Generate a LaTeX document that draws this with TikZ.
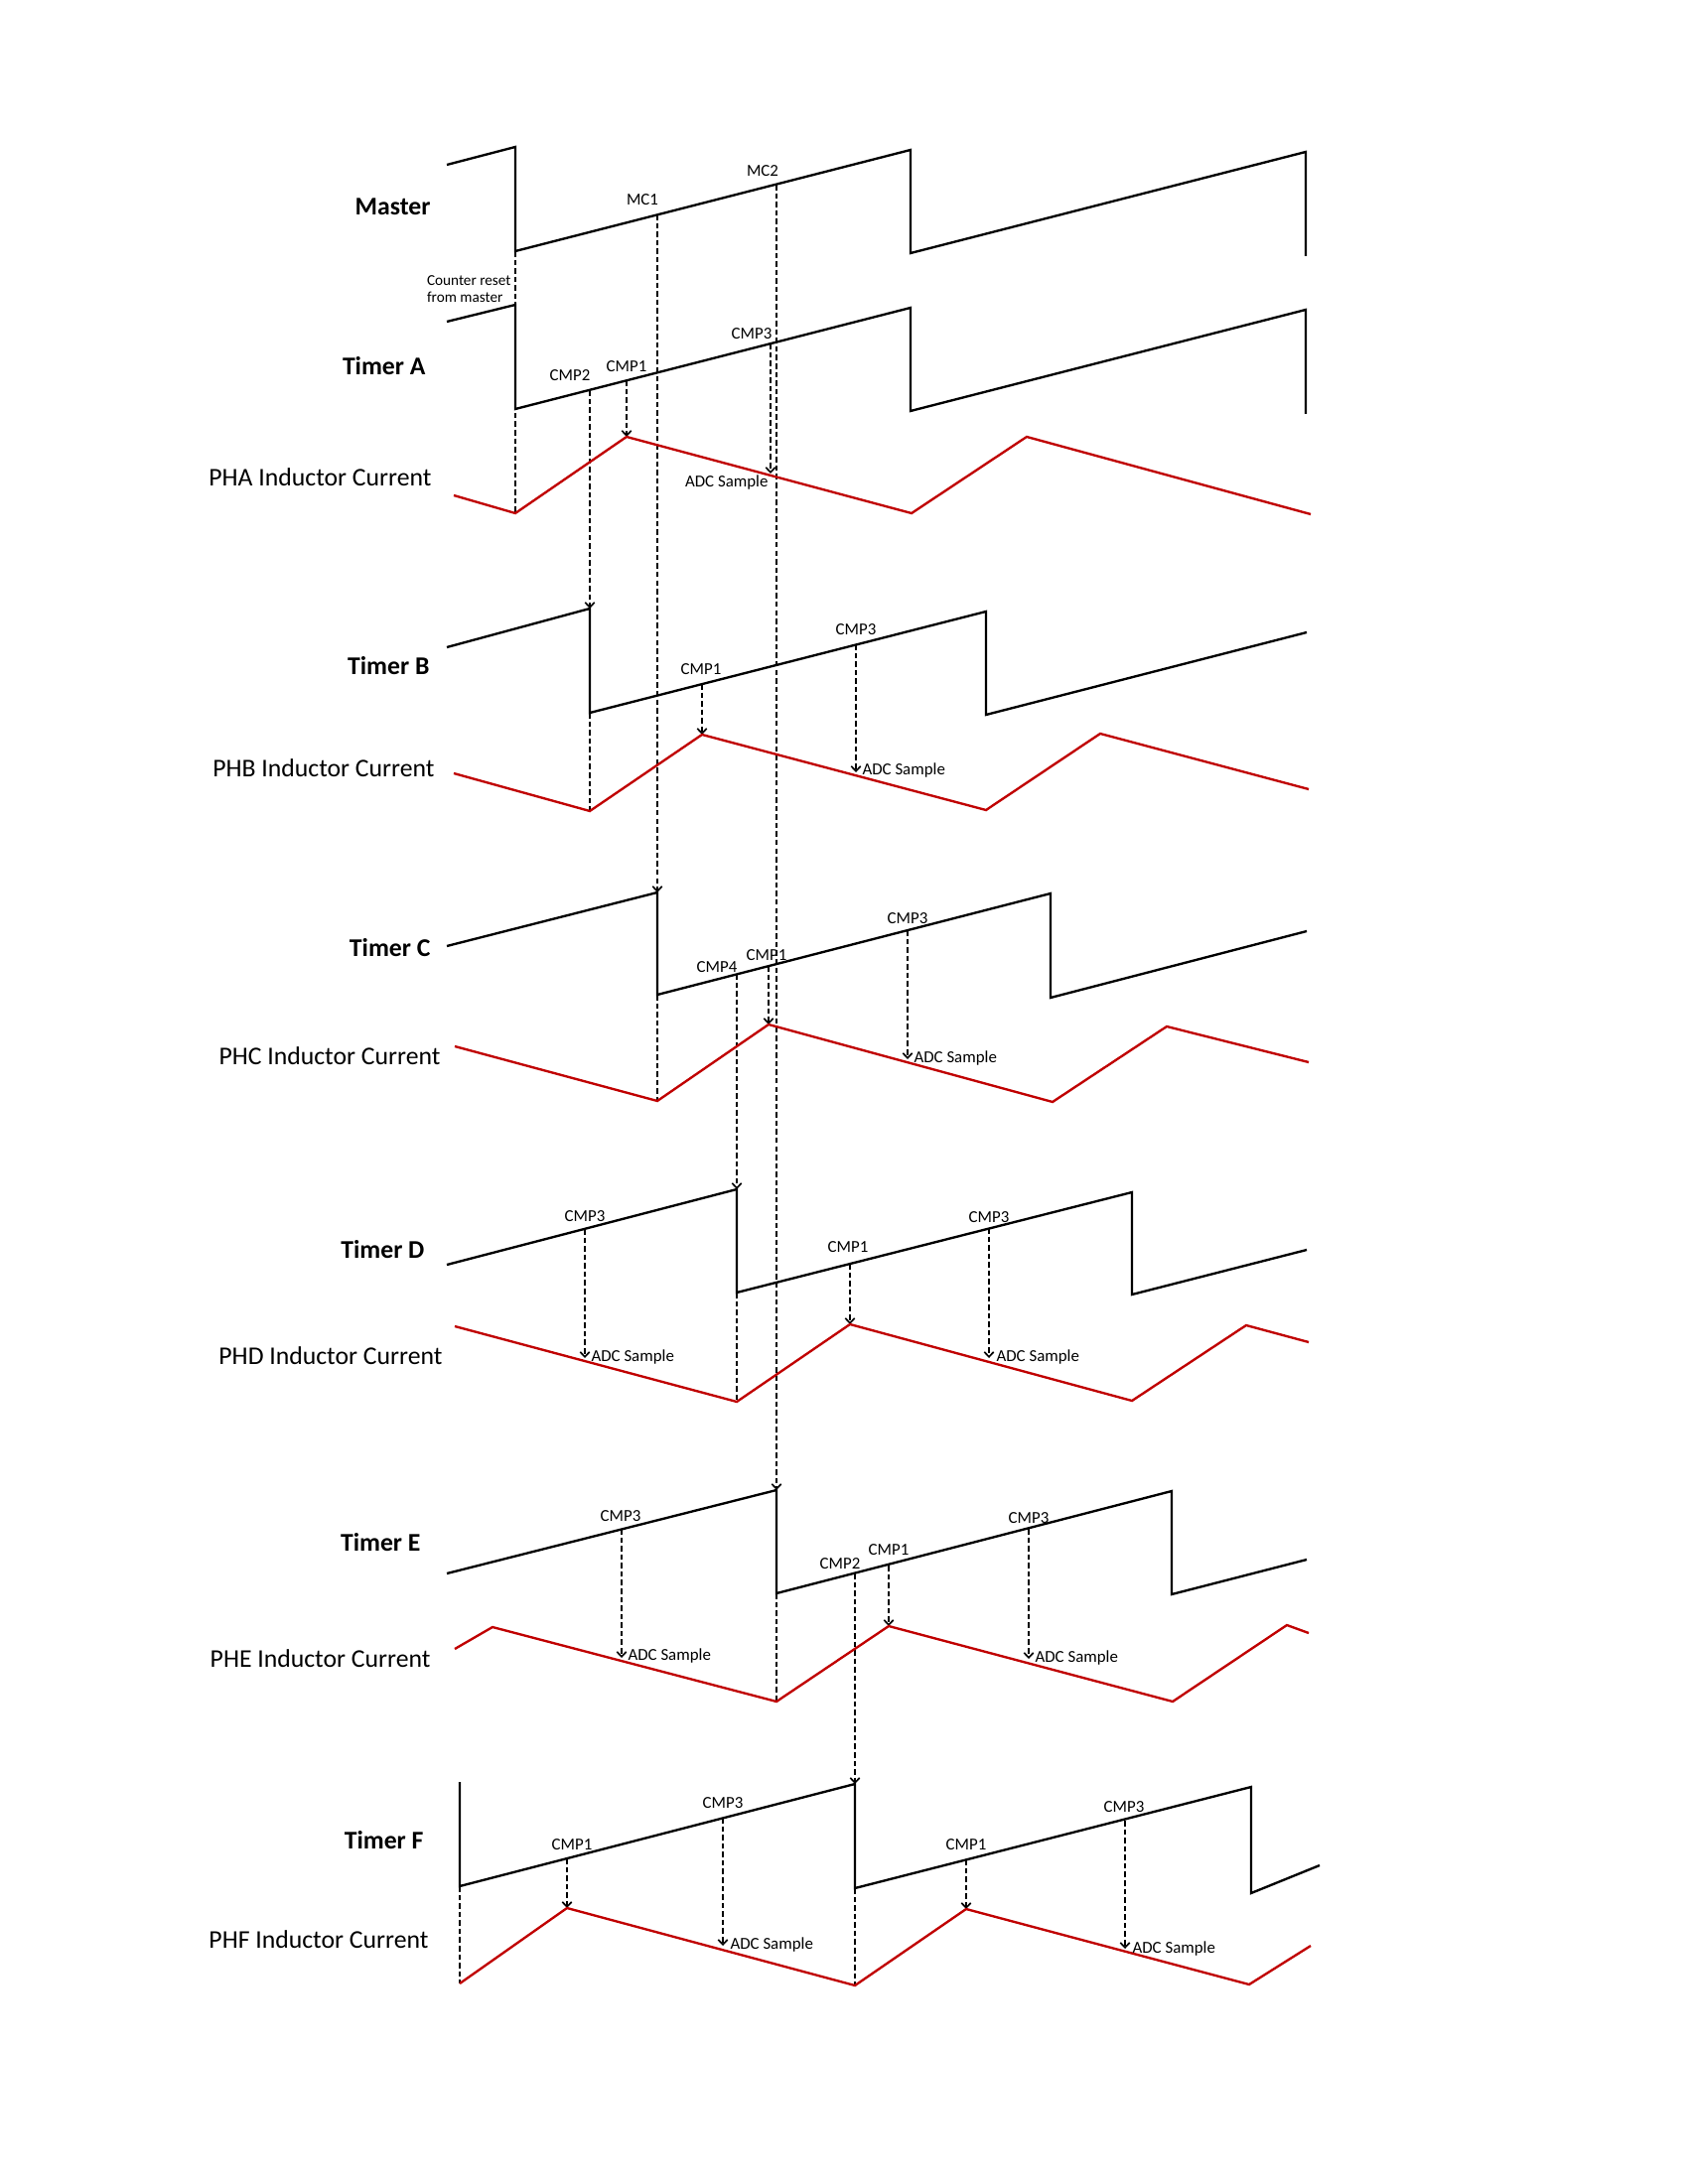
\documentclass[tikz,border=0pt]{standalone}
\usepackage{fontspec}
\setmainfont{Carlito}
\usetikzlibrary{arrows.meta}
\definecolor{ilRed}{HTML}{C00000}
\definecolor{rampBlack}{HTML}{000000}
\tikzset{
  rampW/.style={rampBlack, line width=0.85pt},
  curW/.style={ilRed, line width=0.85pt},
  syncA/.style={-{Straight Barb[length=1.8pt, width=3.4pt]}, black, line width=0.6pt,
                dash pattern=on 2pt off 1.1pt},
  syncL/.style={black, line width=0.6pt, dash pattern=on 2pt off 1.1pt},
  lblT/.style={font=\fontsize{9.3}{11}\selectfont\bfseries, inner sep=0pt, anchor=mid east},
  lblI/.style={font=\fontsize{9.3}{11}\selectfont, inner sep=0pt, anchor=mid east},
  lblC/.style={font=\fontsize{6.1}{7}\selectfont, inner sep=0pt, anchor=base},
  lblADC/.style={font=\fontsize{6.1}{7}\selectfont, inner sep=0pt, anchor=mid west},
}
\begin{document}
\begin{tikzpicture}[x=0.005in, y=-0.005in]
  \useasboundingbox (0,0) rectangle (1700,2200);

  % row labels
  \node[lblT] (mst) at (434,210) {Master};
  \node[lblT] (tA) at (429,371) {Timer A};
  \node[lblI] (iA) at (435,483) {PHA Inductor Current};
  \node[lblT] (tB) at (433,673) {Timer B};
  \node[lblI] (iB) at (438,776) {PHB Inductor Current};
  \node[lblT] (tC) at (434,957) {Timer C};
  \node[lblI] (iC) at (444,1066) {PHC Inductor Current};
  \node[lblT] (tD) at (428,1261) {Timer D};
  \node[lblI] (iD) at (446,1368) {PHD Inductor Current};
  \node[lblT] (tE) at (424,1556) {Timer E};
  \node[lblI] (iE) at (434,1673) {PHE Inductor Current};
  \node[lblT] (tF) at (427,1856) {Timer F};
  \node[lblI] (iF) at (432,1956) {PHF Inductor Current};
  \node[font=\fontsize{5.5}{6.2}\selectfont, inner sep=0pt, align=left, anchor=east]
    (rstTxt) at (515,291) {Counter reset\\from master};

  % event points on the ramps
  \coordinate (mRst) at (519,253);
  \coordinate (mc1) at (662,216);
  \coordinate (mc2) at (782,186);
  \coordinate (aC2) at (594,393);
  \coordinate (aC1) at (631,383);
  \coordinate (aC3) at (776,346);
  \coordinate (bC1) at (707,689);
  \coordinate (bC3) at (862,649);
  \coordinate (cC4) at (742,981);
  \coordinate (cC1) at (774,973);
  \coordinate (cC3) at (914,937);
  \coordinate (dC3) at (589,1238);
  \coordinate (dC1) at (856,1273);
  \coordinate (dC3b) at (996,1237);
  \coordinate (eC3) at (626,1540);
  \coordinate (eC2) at (861,1585);
  \coordinate (eC1) at (895,1577);
  \coordinate (eC3b) at (1036,1540);
  \coordinate (fC1) at (571,1872);
  \coordinate (fC3) at (728,1831);
  \coordinate (fC1b) at (973,1873);
  \coordinate (fC3b) at (1133,1834);

  % targets
  \coordinate (aMin) at (519,517);
  \coordinate (aPk) at (631,440);
  \coordinate (aAdc) at (776,477);
  \coordinate (bTop) at (594,613);
  \coordinate (bBot) at (594,718);
  \coordinate (bMin) at (594,817);
  \coordinate (bPk) at (707,740);
  \coordinate (bAdc) at (862,778);
  \coordinate (cTop) at (662,899);
  \coordinate (cBot) at (662,1002);
  \coordinate (cMin) at (662,1109);
  \coordinate (cPk) at (774,1032);
  \coordinate (cAdc) at (914,1067);
  \coordinate (dTop) at (742,1198);
  \coordinate (dBot) at (742,1302);
  \coordinate (dMin) at (742,1412);
  \coordinate (dAdc) at (589,1368);
  \coordinate (dPk) at (856,1334);
  \coordinate (dAdcb) at (996,1368);
  \coordinate (eTop) at (782,1501);
  \coordinate (eBot) at (782,1605);
  \coordinate (eMin) at (782,1714);
  \coordinate (eAdc) at (626,1670);
  \coordinate (ePk) at (895,1638);
  \coordinate (eAdcb) at (1036,1671);
  \coordinate (fTop) at (861,1797);
  \coordinate (fBot) at (861,1902);
  \coordinate (fMin) at (861,2000);
  \coordinate (fL) at (463,1900);
  \coordinate (fStart) at (463,1998);
  \coordinate (fPk) at (571,1922);
  \coordinate (fAdc) at (728,1960);
  \coordinate (fPkb) at (973,1923);
  \coordinate (fAdcb) at (1133,1963);

  % dashed sync lines
  \draw[syncL] (mRst) -- (aMin);
  \draw[syncA] (mc1) -- (cTop);
  \draw[syncL] (cBot) -- (cMin);
  \draw[syncA] (mc2) -- (eTop);
  \draw[syncL] (eBot) -- (eMin);
  \draw[syncA] (aC2) -- (bTop);
  \draw[syncL] (bBot) -- (bMin);
  \draw[syncA] (aC1) -- (aPk);
  \draw[syncA] (aC3) -- (aAdc);
  \draw[syncA] (bC1) -- (bPk);
  \draw[syncA] (bC3) -- (bAdc);
  \draw[syncA] (cC4) -- (dTop);
  \draw[syncL] (dBot) -- (dMin);
  \draw[syncA] (cC1) -- (cPk);
  \draw[syncA] (cC3) -- (cAdc);
  \draw[syncA] (dC3) -- (dAdc);
  \draw[syncA] (dC1) -- (dPk);
  \draw[syncA] (dC3b) -- (dAdcb);
  \draw[syncA] (eC3) -- (eAdc);
  \draw[syncA] (eC2) -- (fTop);
  \draw[syncL] (fBot) -- (fMin);
  \draw[syncA] (eC1) -- (ePk);
  \draw[syncA] (eC3b) -- (eAdcb);
  \draw[syncL] (fL) -- (fStart);
  \draw[syncA] (fC1) -- (fPk);
  \draw[syncA] (fC3) -- (fAdc);
  \draw[syncA] (fC1b) -- (fPkb);
  \draw[syncA] (fC3b) -- (fAdcb);

  % timer ramps
  \draw[rampW] (450,166) -- (519,148) -- (mRst) -- (917,151) -- (917,255) -- (1315,153) -- (1315,258);
  \draw[rampW] (450,324) -- (519,307) -- (519,412) -- (917,310) -- (917,414) -- (1315,312) -- (1315,417);
  \draw[rampW] (450,652) -- (bTop) -- (bBot) -- (993,616) -- (993,720) -- (1316,637);
  \draw[rampW] (450,953) -- (cTop) -- (cBot) -- (1058,900) -- (1058,1005) -- (1316,938);
  \draw[rampW] (450,1274) -- (dTop) -- (dBot) -- (1140,1201) -- (1140,1304) -- (1316,1259);
  \draw[rampW] (450,1585) -- (eTop) -- (eBot) -- (1180,1502) -- (1180,1606) -- (1316,1571);
  \draw[rampW] (463,1795) -- (fL) -- (fTop) -- (fBot) -- (1260,1800) -- (1260,1907) -- (1329,1879);

  % inductor currents
  \draw[curW] (457,499) -- (aMin) -- (aPk) -- (918,517) -- (1034,440) -- (1320,518);
  \draw[curW] (457,779) -- (bMin) -- (bPk) -- (993,816) -- (1108,739) -- (1318,795);
  \draw[curW] (458,1054) -- (cMin) -- (cPk) -- (1060,1110) -- (1175,1034) -- (1318,1070);
  \draw[curW] (458,1336) -- (dMin) -- (dPk) -- (1140,1411) -- (1255,1335) -- (1318,1352);
  \draw[curW] (458,1661) -- (496,1639) -- (eMin) -- (ePk) -- (1181,1714) -- (1296,1637) -- (1318,1645);
  \draw[curW] (fStart) -- (fPk) -- (fMin) -- (fPkb) -- (1258,1999) -- (1320,1960);

  % compare labels
  \node[lblC] (mc1T) at (647,207) {MC1};
  \node[lblC] (mc2T) at (768,178) {MC2};
  \node[lblC] (aC2T) at (574,384) {CMP2};
  \node[lblC] (aC1T) at (631,375) {CMP1};
  \node[lblC] (aC3T) at (757,342) {CMP3};
  \node[lblC] (bC1T) at (706,680) {CMP1};
  \node[lblC] (bC3T) at (862,640) {CMP3};
  \node[lblC] (cC4T) at (722,979) {CMP4};
  \node[lblC] (cC1T) at (772,967) {CMP1};
  \node[lblC] (cC3T) at (914,930) {CMP3};
  \node[lblC] (dC3T) at (589,1230) {CMP3};
  \node[lblC] (dC1T) at (854,1261) {CMP1};
  \node[lblC] (dC3bT) at (996,1231) {CMP3};
  \node[lblC] (eC3T) at (625,1532) {CMP3};
  \node[lblC] (eC2T) at (846,1580) {CMP2};
  \node[lblC] (eC1T) at (895,1566) {CMP1};
  \node[lblC] (eC3bT) at (1036,1534) {CMP3};
  \node[lblC] (fC1T) at (576,1863) {CMP1};
  \node[lblC] (fC3T) at (728,1821) {CMP3};
  \node[lblC] (fC1bT) at (973,1863) {CMP1};
  \node[lblC] (fC3bT) at (1132,1825) {CMP3};

  % ADC sample labels
  \node[lblADC, anchor=mid east] (aAdcT) at (774,484) {ADC Sample};
  \node[lblADC] (bAdcT) at (868,774) {ADC Sample};
  \node[lblADC] (cAdcT) at (920,1064) {ADC Sample};
  \node[lblADC] (dAdcT) at (595,1365) {ADC Sample};
  \node[lblADC] (dAdcbT) at (1003,1365) {ADC Sample};
  \node[lblADC] (eAdcT) at (632,1666) {ADC Sample};
  \node[lblADC] (eAdcbT) at (1042,1668) {ADC Sample};
  \node[lblADC] (fAdcT) at (735,1957) {ADC Sample};
  \node[lblADC] (fAdcbT) at (1140,1961) {ADC Sample};
\end{tikzpicture}
\end{document}
